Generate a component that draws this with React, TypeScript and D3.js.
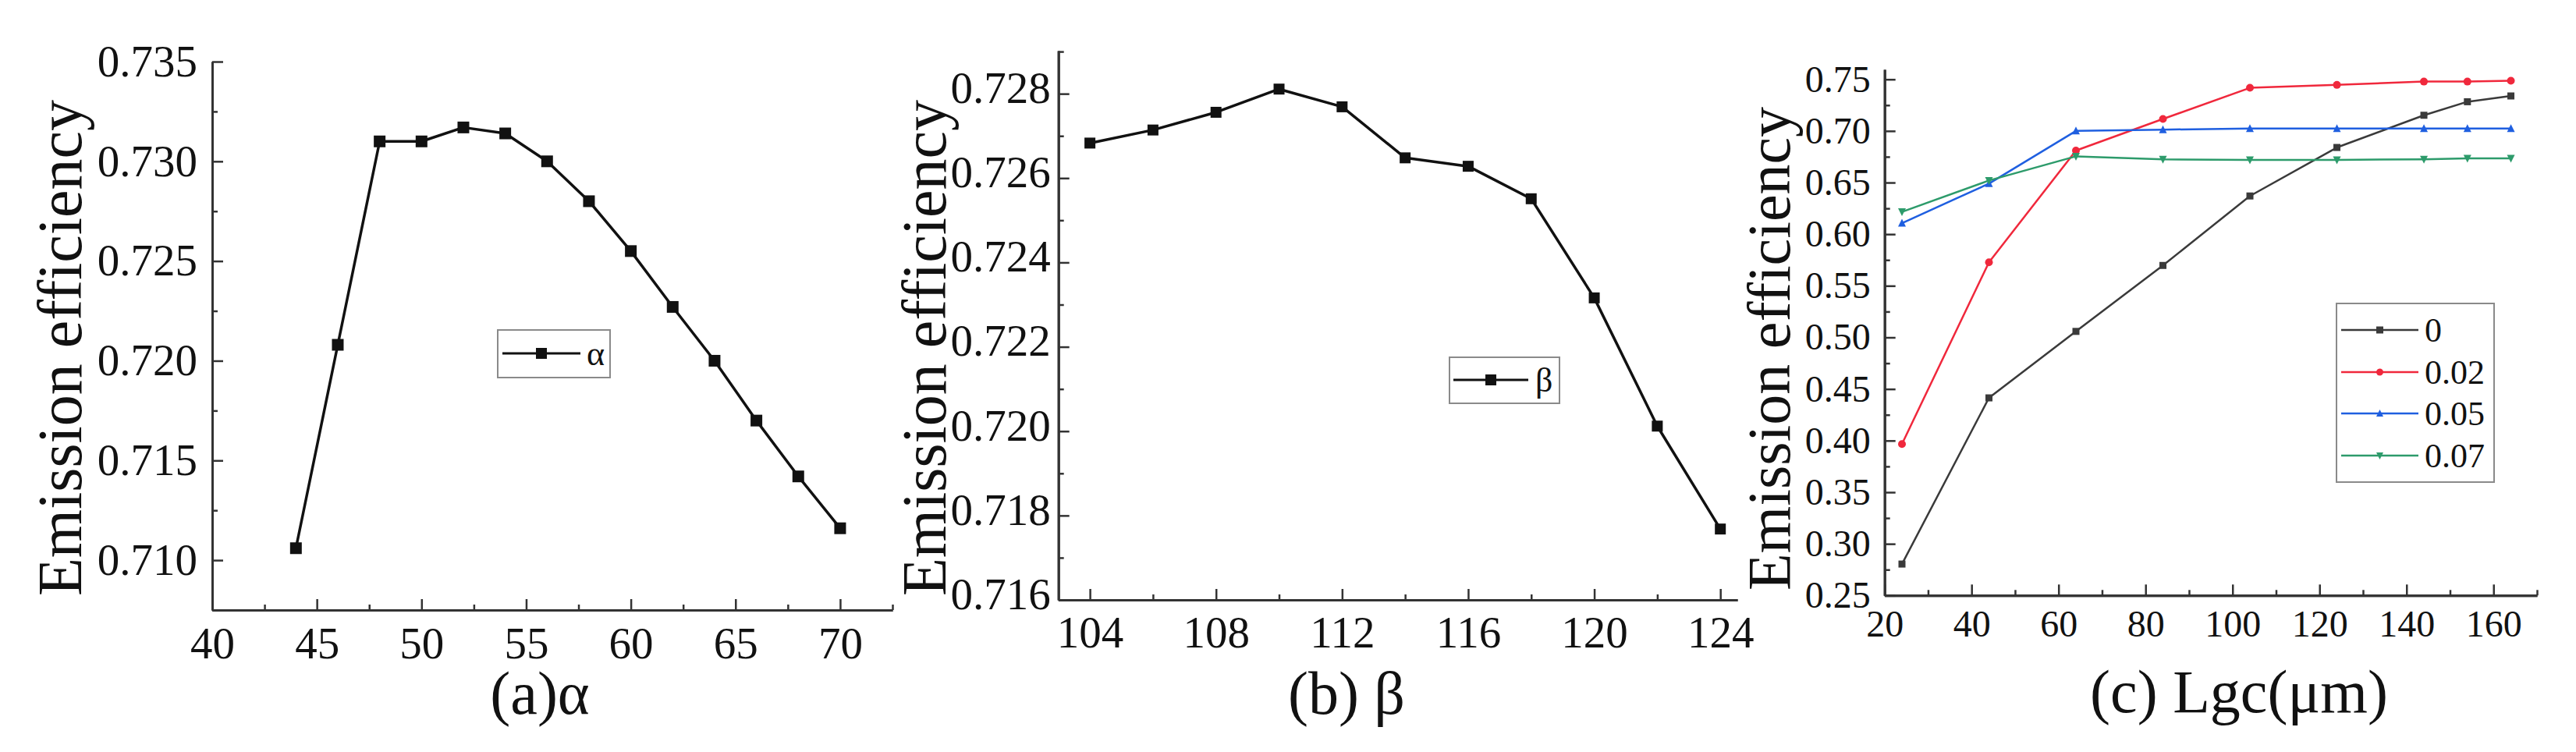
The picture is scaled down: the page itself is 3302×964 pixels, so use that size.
import React, { useEffect, useRef } from "react";
import * as d3 from "d3";

// ---------- data ----------
const alphaX = [44, 46, 48, 50, 52, 54, 56, 58, 60, 62, 64, 66, 68, 70];
const alphaY = [0.7106, 0.7208, 0.731, 0.731, 0.7317, 0.7314, 0.73, 0.728, 0.7255, 0.7227, 0.72, 0.717, 0.7142, 0.7116];

const betaX = [104, 106, 108, 110, 112, 114, 116, 118, 120, 122, 124];
const betaY = [0.72683, 0.72714, 0.72756, 0.72811, 0.72769, 0.72648, 0.72628, 0.72551, 0.72316, 0.72012, 0.71768];

const lgcX = [24, 44, 64, 84, 104, 124, 144, 154, 164];
const series0 = [0.2804, 0.4414, 0.5058, 0.5697, 0.637, 0.684, 0.7152, 0.7283, 0.7339];
const series002 = [0.3967, 0.5728, 0.681, 0.7116, 0.7418, 0.7446, 0.7478, 0.7478, 0.7487];
const series005 = [0.6107, 0.649, 0.7, 0.7013, 0.7023, 0.7023, 0.7023, 0.7023, 0.7023];
const series007 = [0.6216, 0.652, 0.6754, 0.6725, 0.672, 0.672, 0.6725, 0.6735, 0.6735];
const seriesNames = ["0", "0.02", "0.05", "0.07"];

const alphaXTicks = [40, 45, 50, 55, 60, 65, 70];
const alphaXMinor = [42.5, 47.5, 52.5, 57.5, 62.5, 67.5, 72.5];
const alphaYTicks = [0.71, 0.715, 0.72, 0.725, 0.73, 0.735];
const alphaYMinor = [0.7075, 0.7125, 0.7175, 0.7225, 0.7275, 0.7325];

const betaXTicks = [104, 108, 112, 116, 120, 124];
const betaXMinor = [106, 110, 114, 118, 122];
const betaYTicks = [0.716, 0.718, 0.72, 0.722, 0.724, 0.726, 0.728];
const betaYMinor = [0.717, 0.719, 0.721, 0.723, 0.725, 0.727, 0.729];

const lgcXTicks = [20, 40, 60, 80, 100, 120, 140, 160];
const lgcXMinor = [30, 50, 70, 90, 110, 130, 150, 170];
const lgcYTicks = [0.25, 0.3, 0.35, 0.4, 0.45, 0.5, 0.55, 0.6, 0.65, 0.7, 0.75];
const lgcYMinor = [0.275, 0.325, 0.375, 0.425, 0.475, 0.525, 0.575, 0.625, 0.675, 0.725];

const FONT = "'Liberation Serif', 'Times New Roman', serif";
const AXIS_COLOR = "#333";
const COLORS = ["#3a3a3a", "#f0283c", "#1f5fe0", "#2d9b6b"];

type AxisCfg = {
  x0: number; x1: number; y0: number; y1: number;
  xDomain: [number, number]; yDomain: [number, number];
  xTicks: number[]; xMinor: number[]; yTicks: number[]; yMinor: number[];
  xFmt: (d: number) => string; yFmt: (d: number) => string;
  fontSize: number; xPad: number; yPad: number; yDy: string;
  yLabelX: number; yLabelY: number; yLabelSize: number;
  xTitle: string; xTitleX: number; xTitleY: number;
};

function drawAxes(svg: d3.Selection<SVGSVGElement, unknown, null, undefined>, c: AxisCfg) {
  const x = d3.scaleLinear().domain(c.xDomain).range([c.x0, c.x1]);
  const y = d3.scaleLinear().domain(c.yDomain).range([c.y0, c.y1]);
  const g = svg.append("g");

  const gxMinor = g.append("g").attr("transform", `translate(0,${c.y0})`)
    .call(d3.axisBottom(x).tickValues(c.xMinor).tickSize(-7).tickSizeOuter(0).tickFormat(() => ""));
  const gx = g.append("g").attr("transform", `translate(0,${c.y0})`)
    .call(d3.axisBottom(x).tickValues(c.xTicks).tickSize(-14).tickSizeOuter(0).tickPadding(c.xPad).tickFormat((d: any) => c.xFmt(d)));
  const gyMinor = g.append("g").attr("transform", `translate(${c.x0},0)`)
    .call(d3.axisLeft(y).tickValues(c.yMinor).tickSize(-7).tickSizeOuter(0).tickFormat(() => ""));
  const gy = g.append("g").attr("transform", `translate(${c.x0},0)`)
    .call(d3.axisLeft(y).tickValues(c.yTicks).tickSize(-14).tickSizeOuter(0).tickPadding(c.yPad).tickFormat((d: any) => c.yFmt(d)));

  [gxMinor, gx, gyMinor, gy].forEach((a) => {
    a.selectAll("path.domain").attr("stroke", AXIS_COLOR).attr("stroke-width", 3);
    a.selectAll(".tick line").attr("stroke", AXIS_COLOR).attr("stroke-width", 2.5);
    a.selectAll("text").attr("fill", "#111").style("font-family", FONT).style("font-size", `${c.fontSize}px`);
  });
  gy.selectAll("text").attr("dy", c.yDy);

  g.append("text")
    .attr("transform", `translate(${c.yLabelX},${c.yLabelY}) rotate(-90)`)
    .attr("text-anchor", "middle")
    .style("font-family", FONT).style("font-size", `${c.yLabelSize}px`).attr("fill", "#111")
    .text("Emission efficiency");

  g.append("text")
    .attr("x", c.xTitleX).attr("y", c.xTitleY).attr("text-anchor", "middle")
    .style("font-family", FONT).style("font-size", "78px").attr("fill", "#111")
    .text(c.xTitle);

  return { x, y };
}

function marker(g: d3.Selection<SVGGElement, unknown, null, undefined>, kind: string, cx: number, cy: number, size: number, color: string) {
  if (kind === "square") {
    g.append("rect").attr("x", cx - size / 2).attr("y", cy - size / 2).attr("width", size).attr("height", size).attr("fill", color);
  } else if (kind === "circle") {
    g.append("circle").attr("cx", cx).attr("cy", cy).attr("r", size / 2).attr("fill", color);
  } else if (kind === "up") {
    const h = size * 0.9;
    g.append("path").attr("d", `M${cx},${cy - h / 2 - 1} L${cx + size / 2},${cy + h / 2} L${cx - size / 2},${cy + h / 2} Z`).attr("fill", color);
  } else {
    const h = size * 0.9;
    g.append("path").attr("d", `M${cx},${cy + h / 2 + 1} L${cx + size / 2},${cy - h / 2} L${cx - size / 2},${cy - h / 2} Z`).attr("fill", color);
  }
}

function drawSeries(svg: any, xs: number[], ys: number[], x: any, y: any, color: string, width: number, kind: string, msize: number) {
  const g = svg.append("g");
  const line = d3.line<number>().x((_, i) => x(xs[i])).y((d) => y(d));
  g.append("path").datum(ys).attr("d", line).attr("fill", "none").attr("stroke", color).attr("stroke-width", width).attr("stroke-linejoin", "round");
  ys.forEach((v, i) => marker(g, kind, x(xs[i]), y(v), msize, color));
}

function legend(svg: any, box: [number, number, number, number], rows: { label: string; color: string; kind: string; y: number }[], lx0: number, lx1: number, tx: number, fs: number, lw: number, ms: number, fontStyle = "normal") {
  const g = svg.append("g");
  g.append("rect").attr("x", box[0]).attr("y", box[1]).attr("width", box[2] - box[0]).attr("height", box[3] - box[1])
    .attr("fill", "white").attr("stroke", "#8a8a8a").attr("stroke-width", 2);
  rows.forEach((r) => {
    g.append("line").attr("x1", lx0).attr("x2", lx1).attr("y1", r.y).attr("y2", r.y).attr("stroke", r.color).attr("stroke-width", lw);
    marker(g, r.kind, (lx0 + lx1) / 2, r.y, ms, r.color);
    g.append("text").attr("x", tx).attr("y", r.y).attr("dy", "0.35em")
      .style("font-family", FONT).style("font-size", `${fs}px`).style("font-style", fontStyle).attr("fill", "#111").text(r.label);
  });
}

export default function App() {
  const ref = useRef<SVGSVGElement>(null);
  useEffect(() => {
    const svg = d3.select(ref.current!);
    svg.selectAll("*").remove();

    // Panel (a)
    const a = drawAxes(svg, {
      x0: 272, x1: 1144, y0: 782, y1: 79,
      xDomain: [40, 72.5], yDomain: [0.7075, 0.735],
      xTicks: alphaXTicks, xMinor: alphaXMinor, yTicks: alphaYTicks, yMinor: alphaYMinor,
      xFmt: (d) => d3.format("d")(d), yFmt: (d) => d3.format(".3f")(d),
      fontSize: 57, xPad: 22, yPad: 19, yDy: "0.32em",
      yLabelX: 104, yLabelY: 446, yLabelSize: 80,
      xTitle: "(a)α", xTitleX: 692, xTitleY: 915,
    });
    drawSeries(svg, alphaX, alphaY, a.x, a.y, "#111", 3.5, "square", 15);
    legend(svg, [638, 423, 782, 484], [{ label: "α", color: "#111", kind: "square", y: 453 }], 644, 744, 752, 44, 3, 14);

    // Panel (b)
    const b = drawAxes(svg, {
      x0: 1356.7, x1: 2227, y0: 769, y1: 65,
      xDomain: [103, 124.54], yDomain: [0.716, 0.72902],
      xTicks: betaXTicks, xMinor: betaXMinor, yTicks: betaYTicks, yMinor: betaYMinor,
      xFmt: (d) => d3.format("d")(d), yFmt: (d) => d3.format(".3f")(d),
      fontSize: 57, xPad: 21, yPad: 10, yDy: "0.2em",
      yLabelX: 1212, yLabelY: 446, yLabelSize: 80,
      xTitle: "(b) β", xTitleX: 1726, xTitleY: 915,
    });
    drawSeries(svg, betaX, betaY, b.x, b.y, "#111", 3.5, "square", 14);
    legend(svg, [1858, 458, 1999, 517], [{ label: "β", color: "#111", kind: "square", y: 487 }], 1863, 1959, 1968, 44, 3, 14);

    // Panel (c)
    const c = drawAxes(svg, {
      x0: 2415.7, x1: 3252, y0: 763.3, y1: 89,
      xDomain: [20, 170], yDomain: [0.25, 0.7596],
      xTicks: lgcXTicks, xMinor: lgcXMinor, yTicks: lgcYTicks, yMinor: lgcYMinor,
      xFmt: (d) => d3.format("d")(d), yFmt: (d) => d3.format(".2f")(d),
      fontSize: 48, xPad: 19, yPad: 18, yDy: "0.32em",
      yLabelX: 2294, yLabelY: 447, yLabelSize: 78,
      xTitle: "(c) Lgc(μm)", xTitleX: 2870, xTitleY: 913,
    });
    const all = [series0, series002, series005, series007];
    const kinds = ["square", "circle", "up", "down"];
    all.forEach((s, i) => drawSeries(svg, lgcX, s, c.x, c.y, COLORS[i], 2.5, kinds[i], i === 0 ? 9 : 10));
    legend(
      svg,
      [2995, 389, 3197, 618],
      seriesNames.map((n, i) => ({ label: n, color: COLORS[i], kind: kinds[i], y: [423, 477, 530, 584][i] })),
      3001, 3100, 3108, 44, 2.5, 9
    );
  }, []);

  return (
    <svg ref={ref} width={3302} height={964} style={{ position: "absolute", left: 0, top: 0, background: "white" }} />
  );
}
